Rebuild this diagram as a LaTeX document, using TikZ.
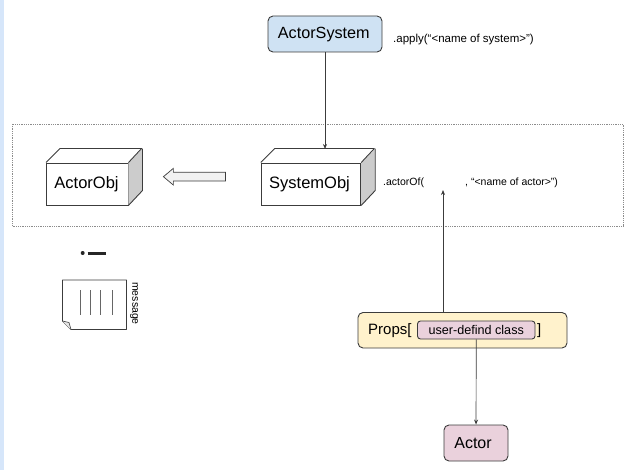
\documentclass[tikz,border=0pt]{standalone}
\usepackage{fontspec}
\setmainfont{Liberation Sans}
\usetikzlibrary{positioning,shapes.arrows,arrows.meta}
\definecolor{stripblue}{HTML}{D6E6FA}
\definecolor{sysblue}{HTML}{CFE2F3}
\definecolor{propsyellow}{HTML}{FFF2CC}
\definecolor{actorpink}{HTML}{EAD1DC}
\definecolor{linegrey}{HTML}{3C3C3C}
\definecolor{sidegrey}{HTML}{CCCCCC}
\tikzset{
    roundbox/.style={draw=linegrey, line width=0.9pt, rounded corners=5pt, inner sep=0pt, font=\fontsize{16}{16}\selectfont},
    objbox/.style={draw=linegrey, line width=0.9pt, fill=white, inner sep=0pt, font=\fontsize{16.3}{16}\selectfont},
    callnote/.style={inner sep=0pt, font=\fontsize{10.5}{11}\selectfont},
    link/.style={draw=linegrey, line width=0.7pt, -{Stealth[length=5pt,width=4pt]}},
    back/.style={draw=linegrey, line width=0.9pt, line join=round}
}
\begin{document}
\begin{tikzpicture}[x=1pt,y=-1pt]
    \useasboundingbox (0,0) rectangle (631,470);
    \fill [stripblue] (0,0) rectangle (4,470);
    % frame round the objects
    \draw [black!45, line width=0.8pt, densely dotted] (12,124) rectangle (623,226);
    % top
    \node [roundbox, fill=sysblue, minimum width=114pt, minimum height=36pt] (system) at (325,34) {};
    \node [inner sep=0pt, font=\fontsize{16.2}{16}\selectfont] (systemtext) at (323.8,34.5) {ActorSystem};
    \node [callnote, anchor=west, font=\fontsize{11.5}{12}\selectfont] (applynote) at (393,40) {.apply(“<name of system>”)};
    % the two objects
    \node [objbox, minimum width=81.5pt, minimum height=42pt] (actorobj) at (87.25,184) {};
    \node [inner sep=0pt, font=\fontsize{16.5}{16}\selectfont] (actorobjtext) at (86.5,184) {ActorObj};
    \fill [sidegrey] (actorobj.north east) -- ++(14,-14) -- ++(0,42) -- (actorobj.south east) -- cycle;
    \draw [back] (actorobj.north west) -- ++(14,-14) -- ++(81.5,0) -- (actorobj.north east);
    \draw [back] (actorobj.north east) ++(14,-14) -- ++(0,42) -- (actorobj.south east);
    \node [objbox, minimum width=99.5pt, minimum height=42pt] (systemobj) at (311,184) {};
    \node [inner sep=0pt, font=\fontsize{16.5}{16}\selectfont] (systemobjtext) at (309.5,184) {SystemObj};
    \fill [sidegrey] (systemobj.north east) -- ++(14,-14) -- ++(0,42) -- (systemobj.south east) -- cycle;
    \draw [back] (systemobj.north west) -- ++(14,-14) -- ++(99.5,0) -- (systemobj.north east);
    \draw [back] (systemobj.north east) ++(14,-14) -- ++(0,42) -- (systemobj.south east);
    \coordinate (systemobjtop) at (system.south |- 0,149);
    \node [single arrow, shape border rotate=180, draw=linegrey, line width=0.7pt, fill=black!5,
        minimum height=62pt, single arrow head extend=4pt, single arrow tip angle=80,
        inner xsep=0pt, inner ysep=4pt] (makearrow) at (197,176.7) {};
    % call text
    \node [callnote, anchor=west] (actorofnote) at (383,183) {.actorOf(};
    \node [callnote, anchor=west] (namenote) at (465,183) {, “<name of actor>”)};
    \coordinate (argslot) at (443,190);
    % props
    \node [roundbox, fill=propsyellow, minimum width=209pt, minimum height=35.5pt] (props) at (462.5,330.25) {};
    \node [inner sep=0pt, font=\fontsize{15}{15}\selectfont, anchor=west] (propsopen) at (368,331) {Props[};
    \node [inner sep=0pt, font=\fontsize{15}{15}\selectfont, anchor=west] (propsclose) at (537,331) {]};
    \node [roundbox, fill=actorpink, minimum width=117.5pt, minimum height=18pt, rounded corners=3pt, font=\fontsize{12.6}{13}\selectfont] (userclass) at (476.25,330) {user-defind class};
    \node [roundbox, fill=actorpink, minimum width=64pt, minimum height=36pt] (actor) at (476,443) {};
    \node [inner sep=0pt, font=\fontsize{16}{16}\selectfont] (actortext) at (473,443.5) {Actor};
    % message
    \fill [black!85] (82.7,253) circle (2);
    \draw [black!85, line width=3pt] (87.5,253) -- (106,253);
    \draw [back, fill=white] (62.5,280) -- (126.5,280) -- (126.5,329.5) -- (71,329.5) -- (62.5,321) -- cycle;
    \draw [back, line width=0.6pt, fill=black!10] (62.5,321) -- (69,322.5) -- (71,329.5);
    \foreach \x in {80,90.5,100.5,112}
        \draw [black!60, line width=0.9pt] (\x,290) -- (\x,315);
    \node [callnote, rotate=-90] (msglabel) at (134,303.5) {message};
    % connectors
    \draw [link] (system) -- (systemobjtop);
    \draw [link] (argslot |- props.north) -- (argslot);
    \draw [link] (userclass) -- (actor);
\end{tikzpicture}
\end{document}
